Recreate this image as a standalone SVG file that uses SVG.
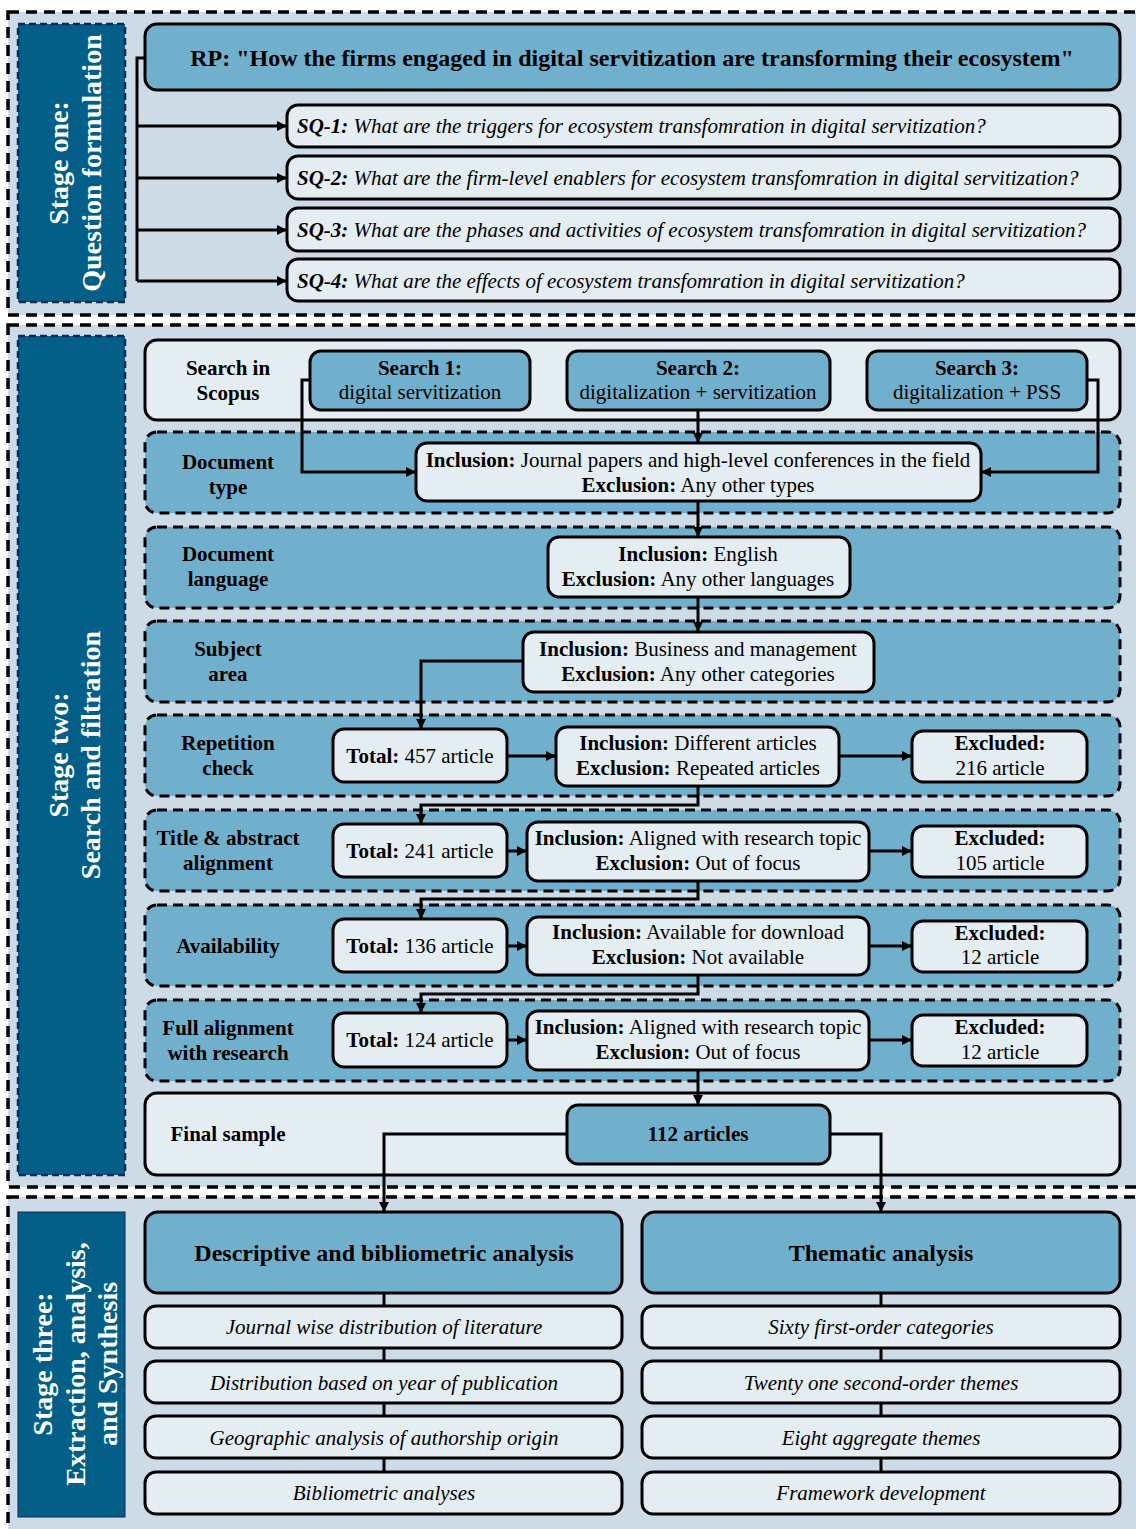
<svg xmlns="http://www.w3.org/2000/svg" width="1136" height="1529" viewBox="0 0 1136 1529">
<defs>
<marker id="arr" viewBox="0 0 10 10" refX="10" refY="5" markerWidth="10" markerHeight="10" markerUnits="userSpaceOnUse" orient="auto">
<path d="M0,0 L10,5 L0,10 z" fill="#000"/>
</marker>
<style>
text{font-family:"Liberation Serif","Times New Roman",serif;fill:#000}
.stage{fill:#cddbe6;stroke:#000;stroke-width:3.5;stroke-dasharray:11 7}
.slab{fill:#035f88;stroke:#0b2a55;stroke-width:2.5;stroke-dasharray:7 4}
.slab3{fill:#035f88;stroke:#0b2a55;stroke-width:1}
.stxt{fill:#fff;font-weight:bold;font-size:28px;text-anchor:middle}
.blue{fill:#70b0cd;stroke:#000;stroke-width:3}
.light{fill:#e4edf1;stroke:#000;stroke-width:3}
.dash{fill:#70b0cd;stroke:#000;stroke-width:3;stroke-dasharray:10 6}
.t{font-size:21px;text-anchor:middle}
.lab{font-size:21px;font-weight:bold;text-anchor:middle}
.b{font-weight:bold}
.sq{font-size:21px;font-style:italic}
.it{font-size:21px;font-style:italic;text-anchor:middle}
.h{font-size:24px;font-weight:bold;text-anchor:middle}
.c{fill:none;stroke:#000;stroke-width:3}
</style>
</defs>

<g id="stage1">
<rect class="stage" x="8" y="12" width="1150" height="303"/>
<rect class="slab" x="18" y="24" width="107" height="278"/>
<g transform="rotate(-90)">
<text class="stxt" x="-163" y="68">Stage one:</text>
<text class="stxt" x="-163" y="101">Question formulation</text>
</g>
</g>
<g id="stage2">
<rect class="stage" x="8" y="325" width="1150" height="862"/>
<rect class="slab" x="18" y="336" width="107" height="839"/>
<g transform="rotate(-90)">
<text class="stxt" x="-755" y="68">Stage two:</text>
<text class="stxt" x="-755" y="100">Search and filtration</text>
</g>
</g>
<g id="stage3">
<rect class="stage" x="8" y="1197" width="1150" height="345"/>
<rect class="slab3" x="18" y="1212" width="107" height="305"/>
<g transform="rotate(-90)">
<text class="stxt" x="-1364" y="52">Stage three:</text>
<text class="stxt" x="-1364" y="85">Extraction, analysis,</text>
<text class="stxt" x="-1364" y="117">and Synthesis</text>
</g>
</g>

<g id="rp">
<rect class="blue" x="145" y="24" width="975" height="66" rx="12"/>
<text class="h" x="632" y="66">RP: "How the firms engaged in digital servitization are transforming their ecosystem"</text>
</g>
<g id="sq1">
<rect class="light" x="287" y="105" width="833" height="42" rx="11"/>
<text class="sq" x="297" y="133"><tspan class="b">SQ-1:</tspan> What are the triggers for ecosystem transfomration in digital servitization?</text>
</g>
<g id="sq2">
<rect class="light" x="287" y="156" width="833" height="43" rx="11"/>
<text class="sq" x="297" y="185"><tspan class="b">SQ-2:</tspan> What are the firm-level enablers for ecosystem transfomration in digital servitization?</text>
</g>
<g id="sq3">
<rect class="light" x="287" y="208" width="833" height="43" rx="11"/>
<text class="sq" x="297" y="237"><tspan class="b">SQ-3:</tspan> What are the phases and activities of ecosystem transfomration in digital servitization?</text>
</g>
<g id="sq4">
<rect class="light" x="287" y="259" width="833" height="42" rx="11"/>
<text class="sq" x="297" y="288"><tspan class="b">SQ-4:</tspan> What are the effects of ecosystem transfomration in digital servitization?</text>
</g>

<g id="row-search">
<rect class="light" x="145" y="340" width="975" height="80" rx="12"/>
<text class="lab" x="228" y="375">Search in</text>
<text class="lab" x="228" y="400">Scopus</text>
</g>
<g id="search1">
<rect class="blue" x="310" y="351" width="220" height="59" rx="11"/>
<text class="t" x="420" y="375"><tspan class="b">Search 1:</tspan></text>
<text class="t" x="420" y="399">digital servitization</text>
</g>
<g id="search2">
<rect class="blue" x="567" y="351" width="263" height="59" rx="11"/>
<text class="t" x="698" y="375"><tspan class="b">Search 2:</tspan></text>
<text class="t" x="698" y="399">digitalization + servitization</text>
</g>
<g id="search3">
<rect class="blue" x="867" y="351" width="220" height="59" rx="11"/>
<text class="t" x="977" y="375"><tspan class="b">Search 3:</tspan></text>
<text class="t" x="977" y="399">digitalization + PSS</text>
</g>

<g id="row-doctype">
<rect class="dash" x="145" y="432" width="975" height="81" rx="12"/>
<text class="lab" x="228" y="469">Document</text>
<text class="lab" x="228" y="494">type</text>
</g>
<g id="doctype">
<rect class="light" x="416" y="443" width="565" height="58" rx="11"/>
<text class="t" x="698" y="467"><tspan class="b">Inclusion:</tspan> Journal papers and high-level conferences in the field</text>
<text class="t" x="698" y="492"><tspan class="b">Exclusion:</tspan> Any other types</text>
</g>

<g id="row-lang">
<rect class="dash" x="145" y="527" width="975" height="81" rx="12"/>
<text class="lab" x="228" y="561">Document</text>
<text class="lab" x="228" y="586">language</text>
</g>
<g id="lang">
<rect class="light" x="548" y="537" width="302" height="60" rx="11"/>
<text class="t" x="698" y="561"><tspan class="b">Inclusion:</tspan> English</text>
<text class="t" x="698" y="586"><tspan class="b">Exclusion:</tspan> Any other languages</text>
</g>

<g id="row-subject">
<rect class="dash" x="145" y="621" width="975" height="81" rx="12"/>
<text class="lab" x="228" y="656">Subject</text>
<text class="lab" x="228" y="681">area</text>
</g>
<g id="subject">
<rect class="light" x="523" y="632" width="351" height="60" rx="11"/>
<text class="t" x="698" y="656"><tspan class="b">Inclusion:</tspan> Business and management</text>
<text class="t" x="698" y="681"><tspan class="b">Exclusion:</tspan> Any other categories</text>
</g>

<g id="row-rep">
<rect class="dash" x="145" y="715" width="975" height="81" rx="12"/>
<text class="lab" x="228" y="750">Repetition</text>
<text class="lab" x="228" y="775">check</text>
</g>
<g id="total457">
<rect class="light" x="333" y="729" width="174" height="53" rx="11"/>
<text class="t" x="420" y="763"><tspan class="b">Total:</tspan> 457 article</text>
</g>
<g id="rep">
<rect class="light" x="556" y="727" width="283" height="59" rx="11"/>
<text class="t" x="698" y="750"><tspan class="b">Inclusion:</tspan> Different articles</text>
<text class="t" x="698" y="775"><tspan class="b">Exclusion:</tspan> Repeated articles</text>
</g>
<g id="ex216">
<rect class="light" x="912" y="731" width="175" height="51" rx="11"/>
<text class="t" x="1000" y="750"><tspan class="b">Excluded:</tspan></text>
<text class="t" x="1000" y="775">216 article</text>
</g>

<g id="row-title">
<rect class="dash" x="145" y="810" width="975" height="81" rx="12"/>
<text class="lab" x="228" y="845">Title &amp; abstract</text>
<text class="lab" x="228" y="870">alignment</text>
</g>
<g id="total241">
<rect class="light" x="333" y="824" width="174" height="53" rx="11"/>
<text class="t" x="420" y="858"><tspan class="b">Total:</tspan> 241 article</text>
</g>
<g id="title">
<rect class="light" x="527" y="822" width="342" height="59" rx="11"/>
<text class="t" x="698" y="845"><tspan class="b">Inclusion:</tspan> Aligned with research topic</text>
<text class="t" x="698" y="870"><tspan class="b">Exclusion:</tspan> Out of focus</text>
</g>
<g id="ex105">
<rect class="light" x="912" y="826" width="175" height="51" rx="11"/>
<text class="t" x="1000" y="845"><tspan class="b">Excluded:</tspan></text>
<text class="t" x="1000" y="870">105 article</text>
</g>

<g id="row-avail">
<rect class="dash" x="145" y="905" width="975" height="81" rx="12"/>
<text class="lab" x="228" y="953">Availability</text>
</g>
<g id="total136">
<rect class="light" x="333" y="919" width="174" height="53" rx="11"/>
<text class="t" x="420" y="953"><tspan class="b">Total:</tspan> 136 article</text>
</g>
<g id="avail">
<rect class="light" x="527" y="917" width="342" height="58" rx="11"/>
<text class="t" x="698" y="939"><tspan class="b">Inclusion:</tspan> Available for download</text>
<text class="t" x="698" y="964"><tspan class="b">Exclusion:</tspan> Not available</text>
</g>
<g id="ex12a">
<rect class="light" x="912" y="921" width="175" height="51" rx="11"/>
<text class="t" x="1000" y="940"><tspan class="b">Excluded:</tspan></text>
<text class="t" x="1000" y="964">12 article</text>
</g>

<g id="row-full">
<rect class="dash" x="145" y="1000" width="975" height="81" rx="12"/>
<text class="lab" x="228" y="1035">Full alignment</text>
<text class="lab" x="228" y="1060">with research</text>
</g>
<g id="total124">
<rect class="light" x="333" y="1013" width="174" height="54" rx="11"/>
<text class="t" x="420" y="1047"><tspan class="b">Total:</tspan> 124 article</text>
</g>
<g id="full">
<rect class="light" x="527" y="1011" width="342" height="59" rx="11"/>
<text class="t" x="698" y="1034"><tspan class="b">Inclusion:</tspan> Aligned with research topic</text>
<text class="t" x="698" y="1059"><tspan class="b">Exclusion:</tspan> Out of focus</text>
</g>
<g id="ex12b">
<rect class="light" x="912" y="1015" width="175" height="51" rx="11"/>
<text class="t" x="1000" y="1034"><tspan class="b">Excluded:</tspan></text>
<text class="t" x="1000" y="1059">12 article</text>
</g>

<g id="row-final">
<rect class="light" x="145" y="1093" width="975" height="82" rx="12"/>
<text class="lab" x="228" y="1141">Final sample</text>
</g>
<g id="final">
<rect class="blue" x="567" y="1105" width="263" height="59" rx="11"/>
<text class="lab" x="698" y="1141">112 articles</text>
</g>

<g id="desc">
<rect class="blue" x="145" y="1212" width="477" height="81" rx="13"/>
<text class="h" x="384" y="1261">Descriptive and bibliometric analysis</text>
</g>
<g id="them">
<rect class="blue" x="642" y="1212" width="478" height="81" rx="13"/>
<text class="h" x="881" y="1261">Thematic analysis</text>
</g>

<g id="connectors">
<path class="c" d="M145,58 H137 V281"/>
<path class="c" d="M137,126 H287" marker-end="url(#arr)"/>
<path class="c" d="M137,178 H287" marker-end="url(#arr)"/>
<path class="c" d="M137,230 H287" marker-end="url(#arr)"/>
<path class="c" d="M137,281 H287" marker-end="url(#arr)"/>
<path class="c" d="M310,380 H302 V472 H416" marker-end="url(#arr)"/>
<path class="c" d="M1087,380 H1098 V472 H981" marker-end="url(#arr)"/>
<path class="c" d="M698,410 V443" marker-end="url(#arr)"/>
<path class="c" d="M698,501 V537" marker-end="url(#arr)"/>
<path class="c" d="M698,597 V632" marker-end="url(#arr)"/>
<path class="c" d="M523,661 H421 V729" marker-end="url(#arr)"/>
<path class="c" d="M507,756 H556" marker-end="url(#arr)"/>
<path class="c" d="M839,756 H912" marker-end="url(#arr)"/>
<path class="c" d="M698,786 V805 H421 V824" marker-end="url(#arr)"/>
<path class="c" d="M507,851 H527" marker-end="url(#arr)"/>
<path class="c" d="M869,851 H912" marker-end="url(#arr)"/>
<path class="c" d="M698,881 V899 H421 V919" marker-end="url(#arr)"/>
<path class="c" d="M507,946 H527" marker-end="url(#arr)"/>
<path class="c" d="M869,946 H912" marker-end="url(#arr)"/>
<path class="c" d="M698,975 V994 H421 V1013" marker-end="url(#arr)"/>
<path class="c" d="M507,1040 H527" marker-end="url(#arr)"/>
<path class="c" d="M869,1040 H912" marker-end="url(#arr)"/>
<path class="c" d="M698,1070 V1105" marker-end="url(#arr)"/>
<path class="c" d="M567,1134 H384 V1212" marker-end="url(#arr)"/>
<path class="c" d="M830,1134 H881 V1212" marker-end="url(#arr)"/>
<path class="c" d="M384,1293 V1472"/>
<path class="c" d="M881,1293 V1472"/>
</g>

<g id="d1"><rect class="light" x="145" y="1306" width="477" height="42" rx="11"/><text class="it" x="384" y="1334">Journal wise distribution of literature</text></g>
<g id="d2"><rect class="light" x="145" y="1361" width="477" height="42" rx="11"/><text class="it" x="384" y="1390">Distribution based on year of publication</text></g>
<g id="d3"><rect class="light" x="145" y="1416" width="477" height="42" rx="11"/><text class="it" x="384" y="1445">Geographic analysis of authorship origin</text></g>
<g id="d4"><rect class="light" x="145" y="1472" width="477" height="42" rx="11"/><text class="it" x="384" y="1500">Bibliometric analyses</text></g>
<g id="t1"><rect class="light" x="642" y="1306" width="478" height="42" rx="11"/><text class="it" x="881" y="1334">Sixty first-order categories</text></g>
<g id="t2"><rect class="light" x="642" y="1361" width="478" height="42" rx="11"/><text class="it" x="881" y="1390">Twenty one second-order themes</text></g>
<g id="t3"><rect class="light" x="642" y="1416" width="478" height="42" rx="11"/><text class="it" x="881" y="1445">Eight aggregate themes</text></g>
<g id="t4"><rect class="light" x="642" y="1472" width="478" height="42" rx="11"/><text class="it" x="881" y="1500">Framework development</text></g>
</svg>
